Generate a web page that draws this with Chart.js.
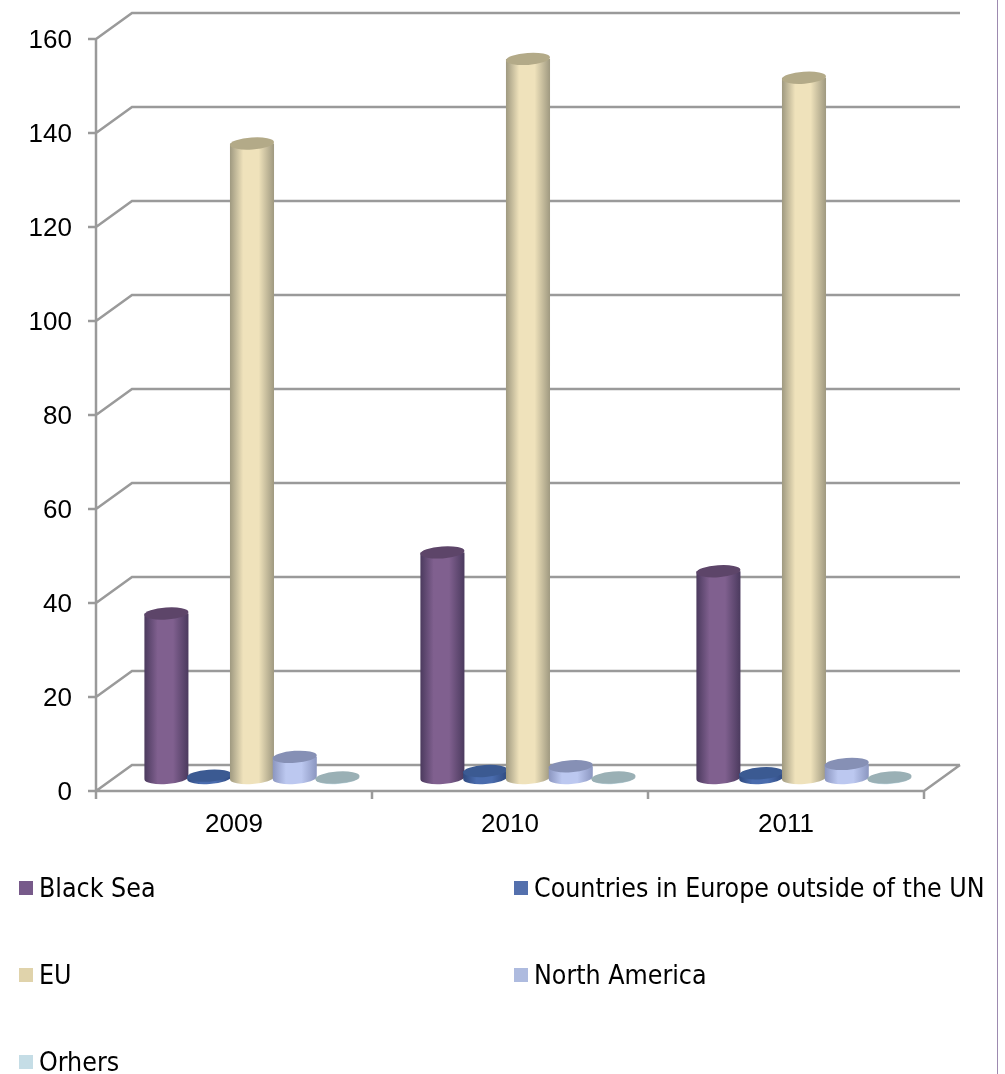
<!DOCTYPE html>
<html>
<head>
<meta charset="utf-8">
<style>
  html, body { margin: 0; padding: 0; background: #fff; }
  #wrap { position: relative; width: 1005px; height: 1074px; overflow: hidden; }
  #edge { position: absolute; left: 997px; top: 0; width: 1px; height: 1074px; background: #9d8ab0; }
  .item { position: absolute; font-family: 'DejaVu Sans', sans-serif; font-stretch: condensed; font-size: 26.5px; color: #000; line-height: 30px; white-space: nowrap; }
  .item i { position: absolute; left: 0; top: 8px; width: 14px; height: 14px; }
  .item span { position: absolute; left: 20px; top: 0; }
</style>
</head>
<body>
<div id="wrap">
  <canvas id="chart" width="1005" height="1074"></canvas>
  <div id="edge"></div>
  <div id="legend"></div>
</div>
<script src="https://cdn.jsdelivr.net/npm/chart.js@4"></script>
<script>
const categories = ['2009', '2010', '2011'];
const blackSea = [35, 48, 44];
const countries = [0.5, 1.5, 1];
const eu = [135, 153, 149];
const northAmerica = [4.5, 2.5, 3];
const others = [0.1, 0.1, 0.1];

const seriesNames = ['Black Sea', 'Countries in Europe outside of the UN', 'EU', 'North America', 'Orhers'];
const seriesValues = [blackSea, countries, eu, northAmerica, others];
const edgeColors = ['#4b3a5e', '#2f4a80', '#9f9980', '#8b96c0', '#8fa5aa'];
const midColors = ['#80608f', '#4a6cae', '#efe2bb', '#bcc8f0', '#c5dde6'];
const topColors = ['#5d4569', '#3b5a92', '#b3aa88', '#8690b5', '#9ab0b5'];
const legendColors = ['#775a8a', '#5470ad', '#e0d3ab', '#aebbdf', '#c5dde6'];

// fake 3d depth of the floor, front edge vs back edge
const depthX = 18;
const depthY = 13;

function drawFrame(chart) {
  const { ctx, scales: { x, y } } = chart;
  const left = x.left - depthX;
  const right = x.right - depthX;
  ctx.save();
  ctx.strokeStyle = '#9a9a9a';
  ctx.lineWidth = 2.5;
  ctx.beginPath();
  y.ticks.forEach(t => {
    const py = y.getPixelForValue(t.value);
    ctx.moveTo(left - 8, py + depthY);
    ctx.lineTo(left, py + depthY);
    ctx.lineTo(left + depthX * 2, py - depthY);
    ctx.lineTo(right + depthX * 2, py - depthY);
  });
  const top = y.getPixelForValue(y.max) + depthY;
  const floor = y.getPixelForValue(0) + depthY;
  ctx.moveTo(left, top);
  ctx.lineTo(left, floor);
  ctx.lineTo(right, floor);
  ctx.lineTo(right + depthX * 2, floor - depthY * 2);
  for (let i = 0; i <= categories.length; i++) {
    const px = left + (right - left) * i / categories.length;
    ctx.moveTo(px, floor);
    ctx.lineTo(px, floor + 8);
  }
  ctx.stroke();
  ctx.restore();
}

function drawCylinders(chart, index) {
  const { ctx } = chart;
  const ds = chart.data.datasets[index];
  const ry = 6;
  const tilt = -0.07;
  chart.getDatasetMeta(index).data.forEach(bar => {
    const { x, y, base, width } = bar.getProps(['x', 'y', 'base', 'width']);
    const rx = width / 2;
    const g = ctx.createLinearGradient(x - rx, 0, x + rx, 0);
    g.addColorStop(0, ds.edgeColor);
    g.addColorStop(0.3, ds.backgroundColor);
    g.addColorStop(0.65, ds.backgroundColor);
    g.addColorStop(1, ds.edgeColor);
    ctx.save();
    ctx.fillStyle = g;
    ctx.beginPath();
    ctx.moveTo(x - rx, y);
    ctx.lineTo(x - rx, base);
    ctx.ellipse(x, base, rx, ry, tilt, Math.PI, 0, true);
    ctx.lineTo(x + rx, y);
    ctx.closePath();
    ctx.fill();
    ctx.fillStyle = ds.topColor;
    ctx.beginPath();
    ctx.ellipse(x, y, rx, ry, tilt, 0, Math.PI * 2);
    ctx.fill();
    ctx.restore();
  });
}

// later series sit on top of earlier ones, the default order is the other way round
const cylinders = {
  id: 'cylinders',
  beforeDatasetsDraw(chart) {
    drawFrame(chart);
    seriesNames.forEach((name, i) => drawCylinders(chart, i));
  },
  beforeDatasetDraw() {
    return false;
  }
};

new Chart(document.getElementById('chart'), {
  type: 'bar',
  data: {
    labels: categories,
    datasets: seriesNames.map((name, i) => ({
      label: name,
      data: seriesValues[i],
      backgroundColor: midColors[i],
      edgeColor: edgeColors[i],
      topColor: topColors[i]
    }))
  },
  options: {
    responsive: false,
    animation: false,
    layout: { padding: { left: 0, top: 26, right: 63, bottom: 196 } },
    categoryPercentage: 0.775,
    barPercentage: 1.03,
    plugins: { legend: { display: false }, tooltip: { enabled: false } },
    scales: {
      x: {
        grid: { display: false },
        border: { display: false },
        ticks: { color: '#000', font: { family: 'Liberation Sans', size: 26 }, padding: 23, labelOffset: -18, maxRotation: 0 },
        afterFit(s) { s.height = 100; s.paddingLeft = 0; s.paddingRight = 0; }
      },
      y: {
        min: 0,
        max: 160,
        grid: { display: false },
        border: { display: false },
        ticks: { stepSize: 20, color: '#000', font: { family: 'Liberation Sans', size: 26 }, padding: 34, labelOffset: 15 },
        afterFit(s) { s.width = 114; s.paddingTop = 0; s.paddingBottom = 0; }
      }
    }
  },
  plugins: [cylinders]
});

const legendSpots = [[19, 873], [514, 873], [19, 960], [514, 960], [19, 1047]];
document.getElementById('legend').innerHTML = seriesNames.map((name, i) =>
  `<div class="item" style="left:${legendSpots[i][0]}px;top:${legendSpots[i][1]}px"><i style="background:${legendColors[i]}"></i><span>${name}</span></div>`
).join('');
</script>
</body>
</html>
